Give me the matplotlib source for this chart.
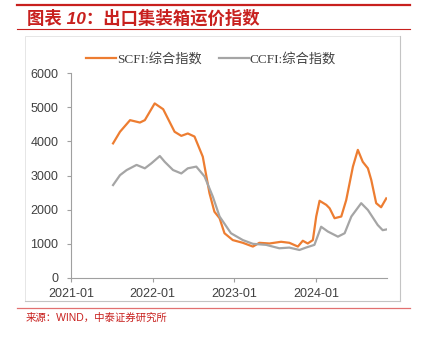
import matplotlib
matplotlib.use("Agg")
import matplotlib.pyplot as plt
import matplotlib.dates as mdates
from matplotlib.lines import Line2D
from matplotlib.patches import Rectangle
import pandas as pd

plt.rcParams['font.family'] = ['Liberation Sans', 'Noto Sans CJK SC', 'DejaVu Sans']

# SCFI composite index
scfi_dates = ['2021-07-08', '2021-08-08', '2021-09-22', '2021-11-05', '2021-11-27',
              '2022-01-10', '2022-02-17', '2022-04-09', '2022-05-09', '2022-06-07',
              '2022-07-07', '2022-08-13', '2022-09-12', '2022-10-04', '2022-10-27',
              '2022-11-18', '2022-12-25', '2023-02-08', '2023-03-25', '2023-04-23',
              '2023-06-07', '2023-07-29', '2023-09-04', '2023-10-12', '2023-11-03',
              '2023-11-25', '2023-12-18', '2024-01-02', '2024-01-17', '2024-02-16',
              '2024-03-02', '2024-03-24', '2024-04-23', '2024-05-15', '2024-05-30',
              '2024-06-14', '2024-07-06', '2024-07-28', '2024-08-20', '2024-09-04',
              '2024-09-26', '2024-10-18', '2024-11-10']
scfi = [3940, 4280, 4620, 4550, 4620,
        5110, 4940, 4280, 4160, 4230,
        4140, 3550, 2480, 1940, 1750,
        1310, 1110, 1030, 920, 1030,
        1010, 1060, 1030, 920, 1090,
        1010, 1110, 1800, 2260, 2140,
        2040, 1750, 1800, 2280, 2770,
        3260, 3750, 3400, 3210, 2870,
        2190, 2070, 2330]

# CCFI composite index
ccfi_dates = ['2021-07-08', '2021-08-08', '2021-09-07', '2021-10-21', '2021-11-27',
              '2021-12-27', '2022-02-02', '2022-02-24', '2022-04-02', '2022-05-09',
              '2022-06-07', '2022-07-15', '2022-08-21', '2022-09-27', '2022-10-27',
              '2022-12-17', '2023-02-08', '2023-03-25', '2023-05-23', '2023-07-21',
              '2023-09-04', '2023-10-19', '2023-11-17', '2023-12-25', '2024-01-24',
              '2024-02-23', '2024-04-08', '2024-05-08', '2024-06-07', '2024-07-21',
              '2024-08-20', '2024-10-03', '2024-10-25', '2024-11-10']
ccfi = [2720, 3010, 3160, 3310, 3210,
        3360, 3570, 3400, 3160, 3060,
        3210, 3260, 2970, 2380, 1800,
        1310, 1110, 1000, 970, 870,
        890, 820, 890, 970, 1500,
        1360, 1210, 1310, 1800, 2190,
        1990, 1550, 1400, 1420]

xticks = ['2021-01', '2022-01', '2023-01', '2024-01']

red = '#C8201E'
txt = '#404040'

fig = plt.figure(figsize=(4.22, 3.37), dpi=100)

# frame lines and chart box
fig.add_artist(Line2D([17/422, 410/422], [1-5/337, 1-5/337], color=red, lw=1.6))
fig.add_artist(Line2D([17/422, 410/422], [1-29/337, 1-29/337], color=red, lw=0.8))
fig.add_artist(Line2D([17/422, 410/422], [1-308/337, 1-308/337], color='#E27070', lw=0.9))
fig.add_artist(Rectangle((25/422, 1-301/337), 375/422, 265/337, fill=False,
                         edgecolor='#E2E2E2', lw=0.6))
fig.add_artist(Line2D([400/422, 400/422], [1-301/337, 1-36/337], color='#C4C4C4', lw=0.8))
fig.add_artist(Line2D([25/422, 400/422], [1-301/337, 1-301/337], color='#C4C4C4', lw=0.8))

fig.text(27/422, 1-18/337, '图表 10：出口集装箱运价指数', color=red, fontsize=12.5,
         fontweight='bold', fontstyle='italic', va='center', ha='left')
fig.text(26/422, 1-318/337, '来源：WIND，中泰证券研究所', color=red, fontsize=7.5,
         va='center', ha='left')

ax = fig.add_axes([71/422, 59/337, 315.7/422, 205/337])
ax.plot(pd.to_datetime(scfi_dates), scfi, color='#ED7D31', lw=1.6, label='SCFI:综合指数')
ax.plot(pd.to_datetime(ccfi_dates), ccfi, color='#A5A5A5', lw=1.6, label='CCFI:综合指数')

ax.set_xlim(pd.Timestamp('2021-01-01'), pd.Timestamp('2024-11-12'))
ax.set_ylim(0, 6000)
ax.set_yticks(range(0, 6001, 1000))
ax.set_xticks(pd.to_datetime(xticks))
ax.xaxis.set_major_formatter(mdates.DateFormatter('%Y-%m'))

for s in ['top', 'right']:
    ax.spines[s].set_visible(False)
for s in ['left', 'bottom']:
    ax.spines[s].set_color('#A0A0A0')
    ax.spines[s].set_linewidth(0.8)
ax.tick_params(axis='both', colors='#A0A0A0', labelcolor=txt, labelsize=9,
               length=3, width=0.8)
ax.tick_params(axis='y', pad=6)
ax.tick_params(axis='x', pad=4)

leg = ax.legend(loc='center', bbox_to_anchor=(211/315.7 - 71/315.7, (278-59)/205), ncol=2,
                frameon=False, handlelength=2.3, columnspacing=1.3, handletextpad=0.05,
                prop={'family': ['Liberation Serif', 'Noto Sans CJK SC'], 'size': 9.5},
                borderaxespad=0.0, borderpad=0.0)
for t in leg.get_texts():
    t.set_color(txt)

fig.savefig('out.png', dpi=100)
